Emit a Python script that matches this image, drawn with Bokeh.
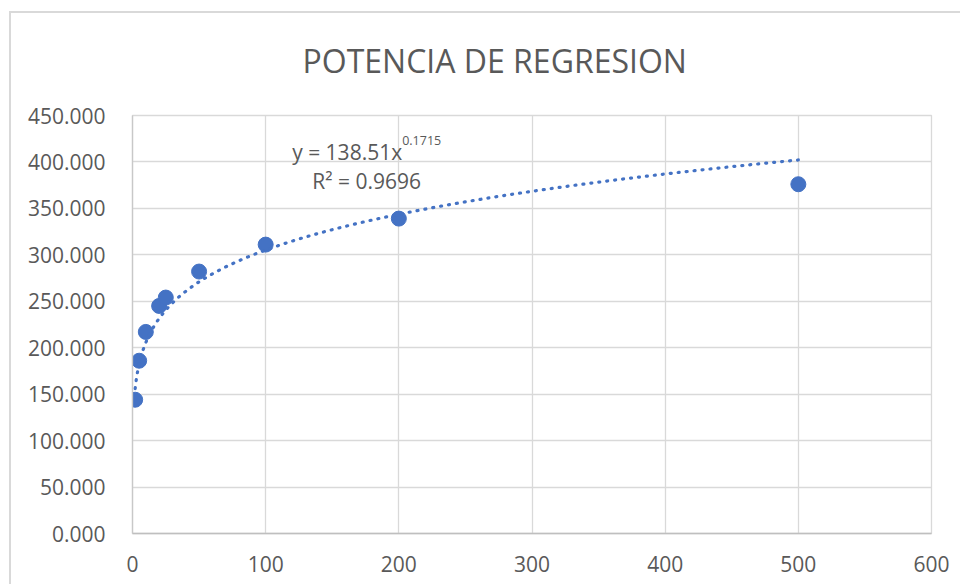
import numpy as np
from bokeh.plotting import figure
from bokeh.models import Label, NumeralTickFormatter, FixedTicker, Range1d, InlineStyleSheet
from bokeh.embed import file_html
from bokeh.resources import INLINE

# ---- data ----
title_text = "POTENCIA DE REGRESION"
x_values = [2, 5, 10, 20, 25, 50, 100, 200, 500]
y_values = [144, 186, 217, 245, 254, 282, 311, 339, 376]
x_ticks = [0, 100, 200, 300, 400, 500, 600]
y_ticks = [0, 50, 100, 150, 200, 250, 300, 350, 400, 450]
coef_a = 138.51
coef_b = 0.1715
r_squared = 0.9696

BLUE = "#4472C4"
TXT = "#595959"
GRID = "#D9D9D9"
FONT = "Open Sans"

border_css = InlineStyleSheet(css="""
:host::after {
  content: "";
  position: absolute;
  left: 9px; top: 11px; right: 0; bottom: 0;
  border-left: 2px solid #D9D9D9;
  border-top: 2px solid #D9D9D9;
  pointer-events: none;
}
""")

p = figure(width=960, height=584, output_backend="svg", toolbar_location=None,
           x_range=Range1d(0, 600), y_range=Range1d(0, 450),
           min_border_left=132, min_border_right=29,
           min_border_top=115, min_border_bottom=51,
           stylesheets=[border_css])
p.background_fill_color = "white"
p.border_fill_color = "white"
p.outline_line_color = GRID
p.outline_line_width = 1.3

# title
p.title.text = title_text
p.title.text_font = FONT
p.title.text_font_size = "32px"
p.title.text_font_style = "normal"
p.title.text_color = TXT
p.title.align = "left"
p.title.offset = 170
p.title.standoff = 68

# axes
p.xaxis.ticker = FixedTicker(ticks=x_ticks)
p.yaxis.ticker = FixedTicker(ticks=y_ticks)
p.xgrid.ticker = FixedTicker(ticks=x_ticks)
p.ygrid.ticker = FixedTicker(ticks=y_ticks)
p.yaxis.formatter = NumeralTickFormatter(format="0.000")
for ax in (p.xaxis, p.yaxis):
    ax.major_tick_line_color = None
    ax.minor_tick_line_color = None
    ax.major_label_text_font = FONT
    ax.major_label_text_font_size = "21px"
    ax.major_label_text_color = TXT
p.xaxis.axis_line_color = "#BFBFBF"
p.xaxis.axis_line_width = 1.5
p.yaxis.axis_line_color = "#C8C8C8"
p.yaxis.axis_line_width = 1.3
p.xaxis.major_label_standoff = 16
p.yaxis.major_label_standoff = 21
p.grid.grid_line_color = GRID
p.grid.grid_line_width = 1.3

# data points
p.scatter(x_values, y_values, size=15, fill_color=BLUE, line_color=BLUE)

# power trendline from the shown equation
xt = np.linspace(min(x_values), max(x_values), 600)
yt = coef_a * xt ** coef_b
p.line(xt, yt, line_color=BLUE, line_width=3.2, line_dash="1 7", line_cap="round")

# equation labels
p.add_layout(Label(x=202.5, y=410.5, text=f"y = {coef_a}x", text_font=FONT,
                   text_font_size="21px", text_color=TXT,
                   text_align="right", text_baseline="alphabetic"))
p.add_layout(Label(x=202.5, y=423, text=f"{coef_b}", text_font=FONT,
                   text_font_size="12.5px", text_color=TXT,
                   text_align="left", text_baseline="alphabetic"))
p.add_layout(Label(x=135, y=379, text=f"R² = {r_squared}", text_font=FONT,
                   text_font_size="21px", text_color=TXT,
                   text_align="left", text_baseline="alphabetic"))

open("out.html", "w").write(file_html(p, INLINE))
